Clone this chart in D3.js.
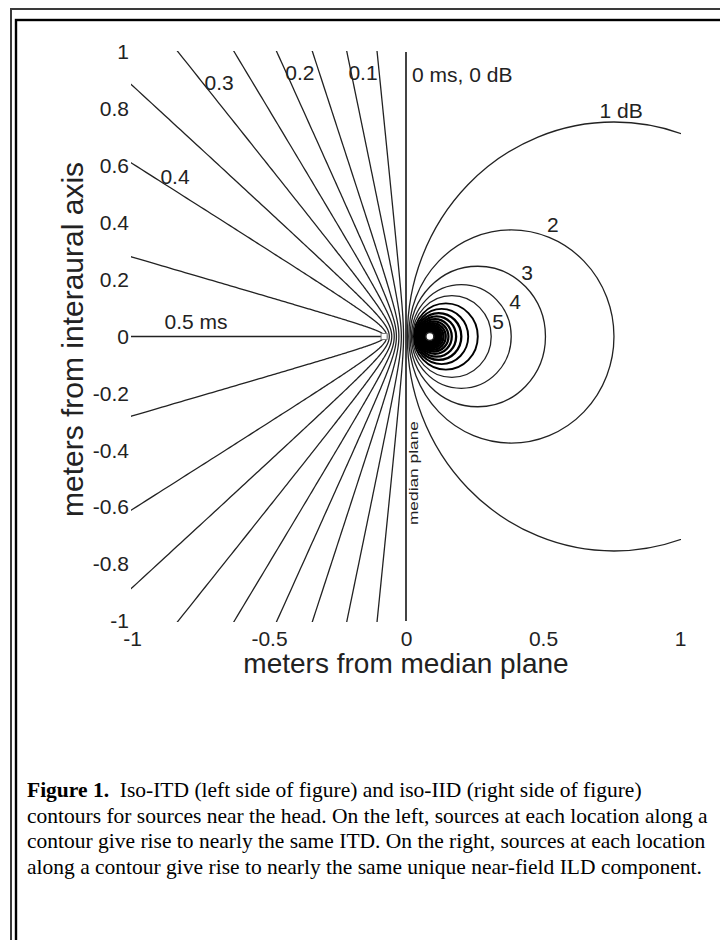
<!DOCTYPE html>
<html>
<head>
<meta charset="utf-8">
<script src="https://cdn.jsdelivr.net/npm/d3@7"></script>
<style>
  html, body { margin: 0; padding: 0; background: #fff; }
  svg { display: block; }
</style>
</head>
<body>
<div id="chart"></div>
<script>
// iso-ITD contours (ms): where each leaves the plot and where it meets the interaural axis
const itdLevels = [0, 0.05, 0.1, 0.15, 0.2, 0.25, 0.3, 0.35, 0.4, 0.45, 0.5];
const itdEndX = [0, -0.105, -0.215, -0.34, -0.47, -0.625, -0.83, -1, -1, -1, -1];
const itdEndY = [1, 1, 1, 1, 1, 1, 1, 0.885, 0.61, 0.28, 0];
const itdVertex = [0, -0.009, -0.017, -0.026, -0.035, -0.043, -0.052, -0.061, -0.07, -0.077, -0.082];

// iso-IID contours (dB): near and far crossings of the interaural axis
const iidLevels = [1, 2, 3, 4, 5, 6, 7, 8, 9, 10, 11, 12, 13, 14, 15, 16, 17, 18, 19, 20];
const iidNear = [0.005, 0.010, 0.015, 0.020, 0.024, 0.029, 0.033, 0.037, 0.041, 0.045,
                 0.049, 0.052, 0.055, 0.058, 0.061, 0.063, 0.065, 0.068, 0.069, 0.071];
const iidFar = [1.513, 0.759, 0.509, 0.384, 0.311, 0.262, 0.227, 0.202, 0.183, 0.167,
                0.155, 0.145, 0.137, 0.130, 0.125, 0.120, 0.116, 0.112, 0.109, 0.106];

// ears
const leftEar = -0.08;
const rightEar = 0.087;

// contour labels
const labelText = ['0 ms, 0 dB', '0.1', '0.2', '0.3', '0.4', '0.5 ms', '1 dB', '2', '3', '4', '5'];
const labelX = [0.022, -0.157, -0.387, -0.682, -0.843, -0.766, 0.785, 0.536, 0.442, 0.398, 0.336];
const labelY = [0.921, 0.928, 0.928, 0.893, 0.562, 0.053, 0.794, 0.394, 0.225, 0.123, 0.053];

const xTicks = [-1, -0.5, 0, 0.5, 1];
const yTicks = [1, 0.8, 0.6, 0.4, 0.2, 0, -0.2, -0.4, -0.6, -0.8, -1];

const captionLines = [
  'contours for sources near the head. On the left, sources at each location along a',
  'contour give rise to nearly the same ITD. On the right, sources at each location',
  'along a contour give rise to nearly the same unique near-field ILD component.'
];

const sans = '"Liberation Sans", Arial, Helvetica, sans-serif';
const serif = '"Liberation Serif", "Times New Roman", serif';
const ink = '#222';

const svg = d3.select('#chart')
  .append('svg')
  .attr('width', 720)
  .attr('height', 940);

// page frame (runs off the right and bottom)
svg.append('rect')
  .attr('x', 11).attr('y', 9).attr('width', 760).attr('height', 1000)
  .attr('fill', 'none').attr('stroke', '#3a3a3a').attr('stroke-width', 2);
svg.append('rect')
  .attr('x', 16).attr('y', 20).attr('width', 760).attr('height', 1000)
  .attr('fill', 'none').attr('stroke', '#000').attr('stroke-width', 2.4);

const x = d3.scaleLinear().domain([-1, 1]).range([132, 680]);
const y = d3.scaleLinear().domain([-1, 1]).range([621, 52]);

svg.append('clipPath').attr('id', 'plot-clip')
  .append('rect')
  .attr('x', x(-1) - 1).attr('y', y(1) - 1)
  .attr('width', x(1) - x(-1) + 2).attr('height', y(-1) - y(1) + 2);

const plot = svg.append('g').attr('clip-path', 'url(#plot-clip)');

const line = d3.line().x(d => x(d[0])).y(d => y(d[1]));

// ITD contours
itdLevels.forEach((lv, i) => {
  const A = -itdVertex[i];
  let pts;
  if (A === 0) {
    pts = [[0, -1], [0, 1]];
  } else if (itdEndY[i] === 0) {
    pts = [[-1.05, 0], [-A, 0]];
  } else {
    const m = Math.abs(itdEndY[i] / itdEndX[i]);
    const B = A * m;
    const tMax = Math.min(Math.acosh(1.05 / A), Math.asinh(1.05 / B));
    pts = d3.range(-200, 201).map(k => {
      const t = tMax * k / 200;
      return [-A * Math.cosh(t), B * Math.sinh(t)];
    });
  }
  plot.append('path')
    .attr('d', line(pts))
    .attr('fill', 'none')
    .attr('stroke', ink)
    .attr('stroke-width', lv === 0 ? 1.7 : 1.3);
});

// IID contours (the tight ones around the ear run together into a dark blot)
iidLevels.forEach((lv, i) => {
  const c = (iidNear[i] + iidFar[i]) / 2;
  const r = (iidFar[i] - iidNear[i]) / 2;
  plot.append('ellipse')
    .attr('cx', x(c)).attr('cy', y(0))
    .attr('rx', x(c + r) - x(c))
    .attr('ry', y(0) - y(r))
    .attr('fill', 'none')
    .attr('stroke', lv > 5 ? '#000' : ink)
    .attr('stroke-width', lv > 7 ? 2.3 : lv > 5 ? 1.9 : 1.3);
});

// ears
svg.append('rect')
  .attr('x', x(leftEar) - 3).attr('y', y(0) - 3)
  .attr('width', 6).attr('height', 6)
  .attr('fill', '#fff').attr('stroke', '#777').attr('stroke-width', 1);
svg.append('circle')
  .attr('cx', x(rightEar)).attr('cy', y(0)).attr('r', 4)
  .attr('fill', '#fff').attr('stroke', ink).attr('stroke-width', 1.5);

// contour labels
svg.selectAll('text.clabel')
  .data(labelText)
  .enter()
  .append('text')
  .attr('class', 'clabel')
  .attr('x', (d, i) => x(labelX[i]))
  .attr('y', (d, i) => y(labelY[i]))
  .attr('text-anchor', (d, i) => i === 0 ? 'start' : 'middle')
  .attr('dominant-baseline', 'central')
  .style('font-family', sans)
  .style('font-size', '21px')
  .attr('fill', ink)
  .text(d => d);

// "median plane"
svg.append('text')
  .attr('transform', `translate(${x(0) + 12},${y(-0.48)}) rotate(-90)`)
  .attr('text-anchor', 'middle')
  .attr('textLength', 104)
  .attr('lengthAdjust', 'spacingAndGlyphs')
  .style('font-family', sans)
  .style('font-size', '13px')
  .attr('fill', ink)
  .text('median plane');

// axes (labels only)
const gx = svg.append('g')
  .attr('transform', `translate(0,${y(-1)})`)
  .call(d3.axisBottom(x).tickValues(xTicks).tickFormat(d => String(d)).tickSize(0).tickPadding(10));
gx.select('.domain').remove();

const gy = svg.append('g')
  .attr('transform', `translate(${x(-1)},0)`)
  .call(d3.axisLeft(y).tickValues(yTicks).tickFormat(d => String(d)).tickSize(0).tickPadding(3));
gy.select('.domain').remove();

[gx, gy].forEach(g => {
  g.attr('font-family', sans).attr('font-size', 21);
  g.selectAll('text').attr('fill', ink);
});

svg.append('text')
  .attr('x', x(0)).attr('y', 673)
  .attr('text-anchor', 'middle')
  .style('font-family', sans).style('font-size', '28px')
  .attr('fill', ink)
  .text('meters from median plane');

svg.append('text')
  .attr('transform', `translate(83,${y(0) + 3}) rotate(-90)`)
  .attr('text-anchor', 'middle')
  .style('font-family', sans).style('font-size', '30px')
  .attr('fill', ink)
  .text('meters from interaural axis');

// caption
const capX = 27, capY = 797, capStep = 25.5, capSize = '21.5px';
const cap = svg.append('text')
  .attr('x', capX).attr('y', capY)
  .style('font-family', serif).style('font-size', capSize)
  .attr('fill', '#000');
cap.append('tspan').style('font-weight', 'bold').text('Figure 1.');
cap.append('tspan').text('\u00a0 Iso-ITD (left side of figure) and iso-IID (right side of figure)');

captionLines.forEach((t, i) => {
  svg.append('text')
    .attr('x', capX).attr('y', capY + capStep * (i + 1))
    .style('font-family', serif).style('font-size', capSize)
    .attr('fill', '#000')
    .text(t);
});
</script>
</body>
</html>
